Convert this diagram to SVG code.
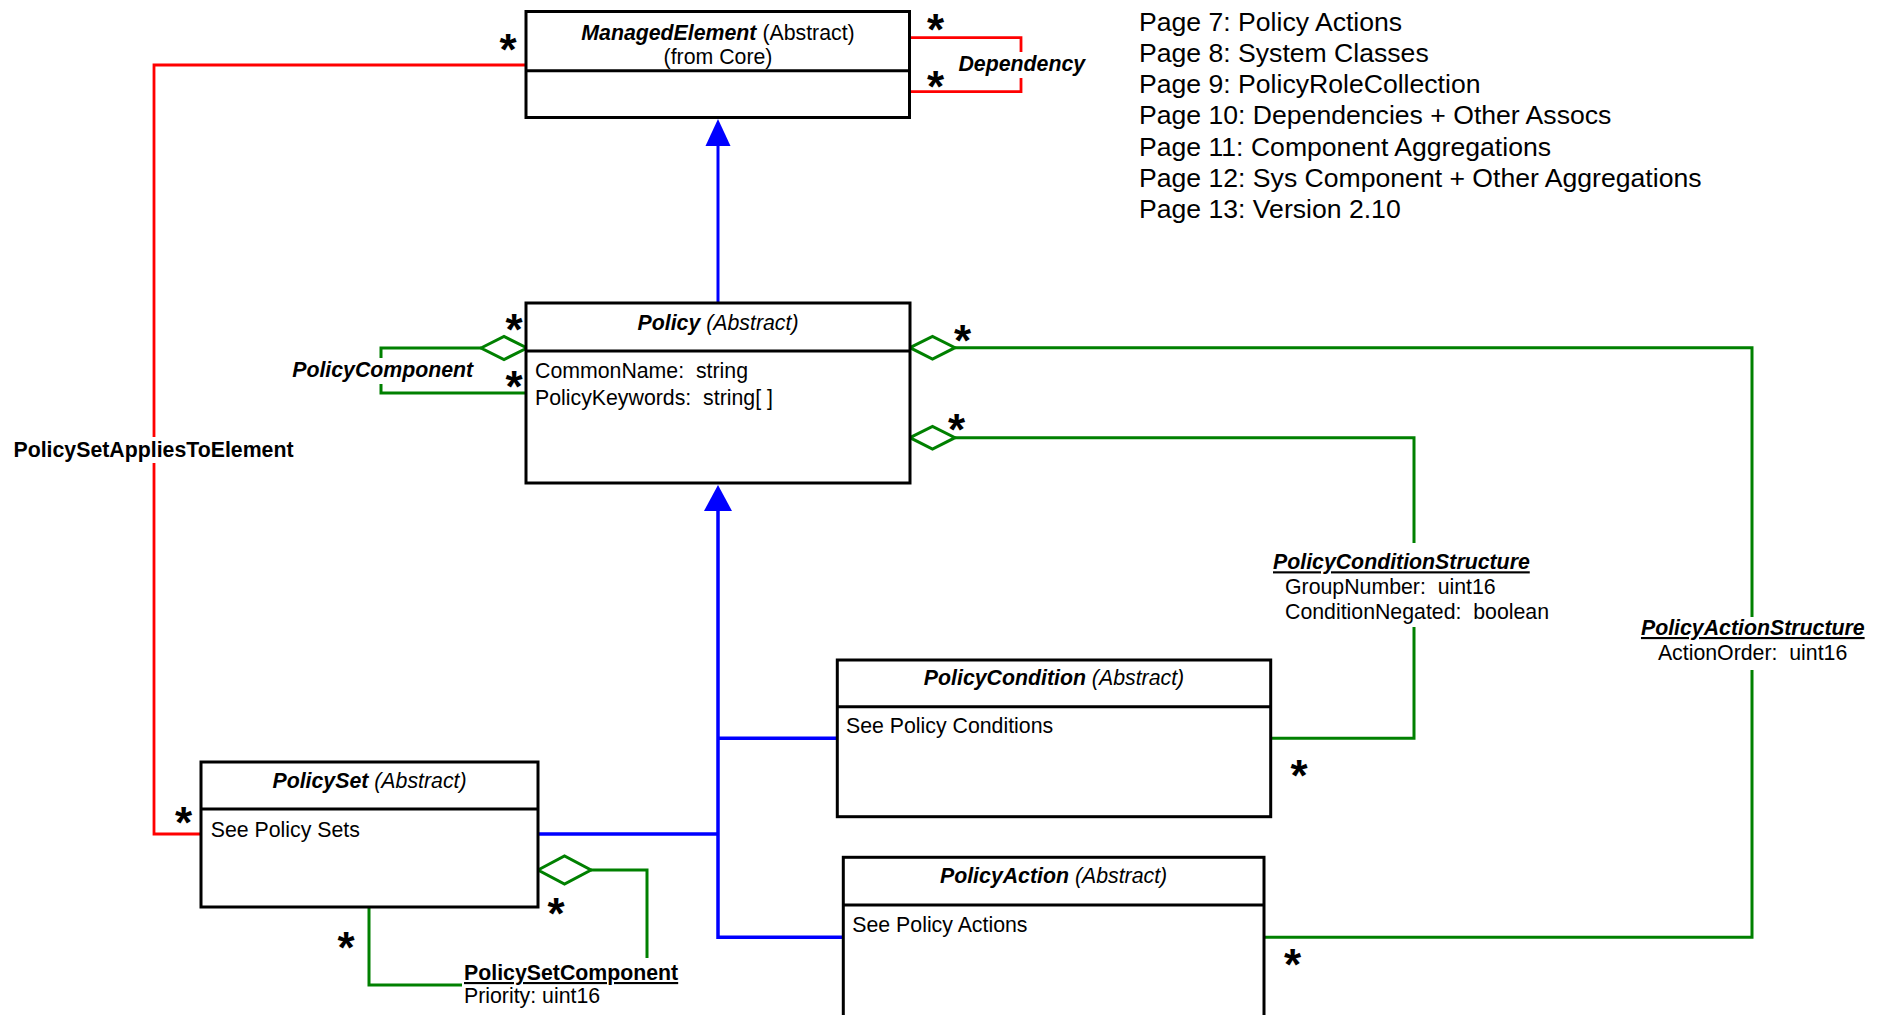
<svg xmlns="http://www.w3.org/2000/svg" width="1883" height="1015" viewBox="0 0 1883 1015">
<style>
.bg{fill:#fff}
.box{fill:#fff;stroke:#000;stroke-width:3}
.div{stroke:#000;stroke-width:3}
.t{font-family:"Liberation Sans",Arial,sans-serif;font-size:21.3px;fill:#000;white-space:pre}
.pg{font-family:"Liberation Sans",Arial,sans-serif;font-size:26.6px;fill:#000}
.bi{font-weight:bold;font-style:italic}
.b{font-weight:bold}
.it{font-style:italic}
.u{text-decoration:underline}
.mid{text-anchor:middle}
.star{font-family:"Liberation Sans",Arial,sans-serif;font-weight:bold;font-size:44px;text-anchor:middle;fill:#000}
.red{stroke:#f00;stroke-width:2.8;fill:none}
.blue{stroke:#00f;stroke-width:3.5;fill:none}
.blue2{stroke:#00f;stroke-width:3;fill:none}
.green{stroke:#008000;stroke-width:3;fill:none}
.dia{fill:#fff;stroke:#008000;stroke-width:3}
.ah{fill:#00f}
</style>
<rect class="bg" x="0" y="0" width="1883" height="1015"/>

<g id="connectors">
  <path class="red" d="M526,65 H154 V437"/>
  <path class="red" d="M154,463 V834 H201"/>
  <path class="red" d="M909,37.7 H1021 V52"/>
  <path class="red" d="M1021,78 V91.7 H909"/>
  <path class="blue2" d="M718,145 V303"/>
  <polygon class="ah" points="718,119 705.5,146 730.5,146"/>
  <path class="blue" d="M718,509 V937.3 H843"/>
  <path class="blue" d="M718,738.3 H837"/>
  <path class="blue" d="M538,834 H718"/>
  <polygon class="ah" points="718,485 704,511 732,511"/>
  <path class="green" d="M481,348 H381 V358"/>
  <path class="green" d="M381,384 V393 H526"/>
  <polygon class="dia" points="481,348 504,336.5 527,348 504,359.5"/>
  <path class="green" d="M955,347.7 H1752 V617"/>
  <path class="green" d="M1752,670 V937.3 H1264"/>
  <polygon class="dia" points="910,347.7 932.5,336.5 955,347.7 932.5,359"/>
  <path class="green" d="M955,437.7 H1414 V543"/>
  <path class="green" d="M1414,627 V738.3 H1271"/>
  <polygon class="dia" points="910,437.7 932.5,426.5 955,437.7 932.5,449"/>
  <path class="green" d="M591,870 H647 V958"/>
  <polygon class="dia" points="538,870 564.5,856 591,870 564.5,884"/>
  <path class="green" d="M369,907 V985 H462"/>
</g>

<g id="ManagedElement">
  <rect class="box" x="526" y="11.5" width="383.5" height="106"/>
  <line class="div" x1="526" y1="70.7" x2="909.5" y2="70.7"/>
  <text class="t mid" x="718" y="40"><tspan class="bi">ManagedElement</tspan> (Abstract)</text>
  <text class="t mid" x="718" y="64">(from Core)</text>
</g>

<g id="Policy">
  <rect class="box" x="526" y="303" width="384" height="180"/>
  <line class="div" x1="526" y1="351" x2="910" y2="351"/>
  <text class="t mid" x="718" y="330"><tspan class="bi">Policy</tspan><tspan class="it"> (Abstract)</tspan></text>
  <text class="t" x="535" y="378.3" xml:space="preserve">CommonName:  string</text>
  <text class="t" x="535" y="405" xml:space="preserve">PolicyKeywords:  string[ ]</text>
</g>

<g id="PolicyCondition">
  <rect class="box" x="837.3" y="660" width="433.4" height="156.7"/>
  <line class="div" x1="837.3" y1="706.7" x2="1270.7" y2="706.7"/>
  <text class="t mid" x="1054" y="685"><tspan class="bi">PolicyCondition</tspan><tspan class="it"> (Abstract)</tspan></text>
  <text class="t" x="846" y="733.3">See Policy Conditions</text>
</g>

<g id="PolicyAction">
  <rect class="box" x="843.3" y="857.3" width="420.7" height="160"/>
  <line class="div" x1="843.3" y1="905" x2="1264" y2="905"/>
  <text class="t mid" x="1053.6" y="883.3"><tspan class="bi">PolicyAction</tspan><tspan class="it"> (Abstract)</tspan></text>
  <text class="t" x="852.3" y="931.7">See Policy Actions</text>
</g>

<g id="PolicySet">
  <rect class="box" x="201" y="762" width="337" height="145"/>
  <line class="div" x1="201" y1="809" x2="538" y2="809"/>
  <text class="t mid" x="369.5" y="788.3"><tspan class="bi">PolicySet</tspan><tspan class="it"> (Abstract)</tspan></text>
  <text class="t" x="210.7" y="836.7">See Policy Sets</text>
</g>

<g id="labels">
  <text class="t bi mid" x="1021.8" y="71">Dependency</text>
  <text class="t b mid" x="153.5" y="456.7">PolicySetAppliesToElement</text>
  <text class="t bi mid" x="382.7" y="377.3">PolicyComponent</text>
  <text class="t bi u" x="1273" y="569.3">PolicyConditionStructure</text>
  <text class="t" x="1285" y="594" xml:space="preserve">GroupNumber:  uint16</text>
  <text class="t" x="1285" y="619" xml:space="preserve">ConditionNegated:  boolean</text>
  <text class="t bi u mid" x="1752.8" y="635">PolicyActionStructure</text>
  <text class="t mid" x="1752.6" y="660" xml:space="preserve">ActionOrder:  uint16</text>
  <text class="t b u" x="464" y="980">PolicySetComponent</text>
  <text class="t" x="464" y="1003">Priority: uint16</text>
</g>

<g id="stars">
  <text class="star" x="508" y="65.4">*</text>
  <text class="star" x="935.5" y="45.1">*</text>
  <text class="star" x="935.5" y="102.1">*</text>
  <text class="star" x="514" y="345.4">*</text>
  <text class="star" x="514" y="402.4">*</text>
  <text class="star" x="962.6" y="356.4">*</text>
  <text class="star" x="956.5" y="444.7">*</text>
  <text class="star" x="1299" y="791.4">*</text>
  <text class="star" x="1292.5" y="980.4">*</text>
  <text class="star" x="183.5" y="838">*</text>
  <text class="star" x="556" y="928.9">*</text>
  <text class="star" x="346" y="962.9">*</text>
</g>

<g id="pages">
  <text class="pg" x="1139" y="30.5">Page 7: Policy Actions</text>
  <text class="pg" x="1139" y="61.8">Page 8: System Classes</text>
  <text class="pg" x="1139" y="93.1">Page 9: PolicyRoleCollection</text>
  <text class="pg" x="1139" y="124.4">Page 10: Dependencies + Other Assocs</text>
  <text class="pg" x="1139" y="155.7">Page 11: Component Aggregations</text>
  <text class="pg" x="1139" y="187">Page 12: Sys Component + Other Aggregations</text>
  <text class="pg" x="1139" y="218.3">Page 13: Version 2.10</text>
</g>
</svg>
